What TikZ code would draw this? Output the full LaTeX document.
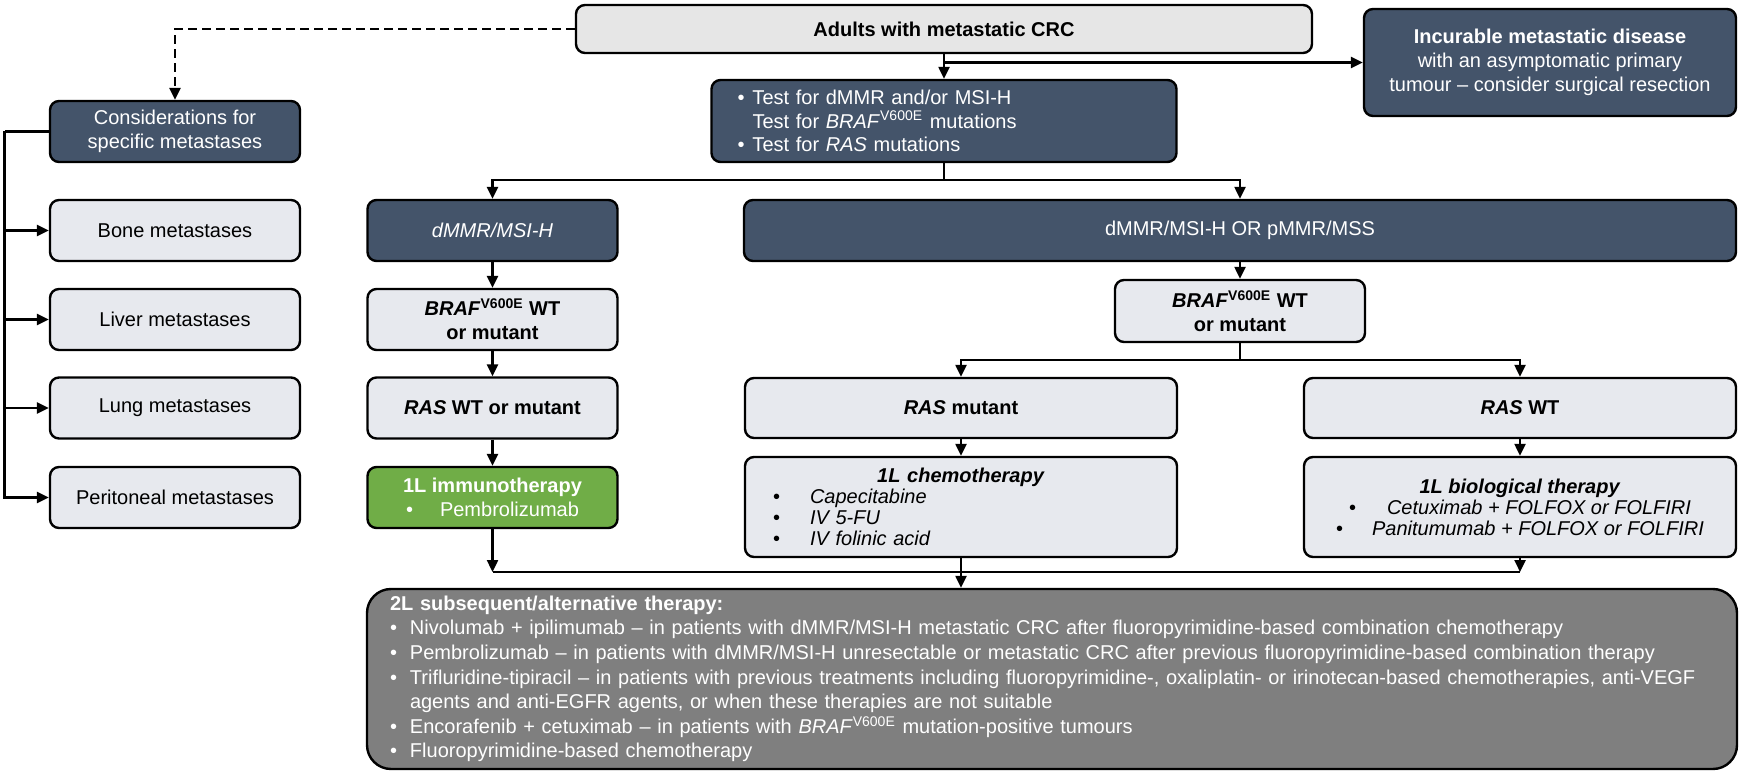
\documentclass[tikz,border=0pt]{standalone}
\usepackage{fontspec}
\setmainfont{Liberation Sans}
\usetikzlibrary{arrows.meta}
\definecolor{slate}{HTML}{44546A}
\definecolor{pale}{HTML}{E7E9EE}
\definecolor{palegrey}{HTML}{E6E6E6}
\definecolor{leaf}{HTML}{70AD47}
\definecolor{midgrey}{HTML}{7F7F7F}
\newcommand{\braf}{\textit{BRAF}\textsuperscript{V600E}}
\newcommand{\bul}[1]{\makebox[#1][l]{\textbullet}}

\begin{document}
\begin{tikzpicture}[x=0.5pt,y=-0.5pt,
  box/.style={draw=black, line width=1.2pt, rounded corners=4.5pt, align=center, inner sep=2pt, font=\fontsize{10}{12}\selectfont},
  light/.style={box, fill=pale, text=black},
  dark/.style={box, fill=slate, text=white},
  small/.style={minimum width=125pt, minimum height=30.5pt},
  wide/.style={minimum width=216pt, minimum height=30pt},
  wire/.style={line width=1.2pt},
  link/.style={line width=1.2pt, -{Stealth[length=6pt, width=5.5pt, inset=0pt]}}]
\useasboundingbox (0,0) rectangle (1739,774);

\node[light, fill=palegrey, minimum width=368pt, minimum height=24pt] (adults) at (944,29) {\textbf{Adults with metastatic CRC}};
\node[dark, minimum width=186pt, minimum height=53.5pt] (incur) at (1550,62.5) {\textbf{Incurable metastatic disease}\\with an asymptomatic primary\\tumour -- consider surgical resection};
\node[dark, minimum width=232.5pt, minimum height=41pt, text width=206.5pt, align=left, inner xsep=13pt, font=\fontsize{10}{11.8}\selectfont] (tests) at (944,121) {\bul{7.5pt}Test for dMMR and/or MSI-H\\\hspace*{7.5pt}Test for \braf{} mutations\\\bul{7.5pt}Test for \textit{RAS} mutations};

\node[dark, small] (consid) at (175,131.5) {Considerations for\\specific metastases};
\node[light, small] (bone) at (175,230.5) {Bone metastases};
\node[light, small] (liver) at (175,319.5) {Liver metastases};
\node[light, small] (lung) at (175,408) {Lung metastases};
\node[light, small] (perit) at (175,497.5) {Peritoneal metastases};

\node[dark, small] (dmmr) at (492.5,230.5) {\textit{dMMR/MSI-H}};
\node[light, small] (brafL) at (492.5,319.5) {\textbf{\braf{} WT}\\\textbf{or mutant}};
\node[light, small] (rasL) at (492.5,408) {\textbf{\textit{RAS} WT or mutant}};
\node[box, small, fill=leaf, text=white] (immuno) at (492.5,497.5) {\textbf{1L immunotherapy}\\\bul{17pt}Pembrolizumab};

\node[dark, minimum width=496pt, minimum height=30.5pt] (either) at (1240,230.5) {dMMR/MSI-H OR pMMR/MSS};
\node[light, minimum width=125pt, minimum height=31pt] (brafR) at (1240,311) {\textbf{\braf{} WT}\\\textbf{or mutant}};
\node[light, wide] (rasmut) at (961,408) {\textbf{\textit{RAS} mutant}};
\node[light, wide] (raswt) at (1520,408) {\textbf{\textit{RAS} WT}};
\node[light, wide, minimum height=50pt, text width=188pt, align=left, inner xsep=14pt, font=\fontsize{10}{10.5}\selectfont] (chemo) at (961,507) {\makebox[\hsize]{\textbf{\textit{1L chemotherapy}}}\\\bul{18.5pt}\textit{Capecitabine}\\\bul{18.5pt}\textit{IV 5-FU}\\\bul{18.5pt}\textit{IV folinic acid}};
\node[light, wide, minimum height=50pt, font=\fontsize{10}{10.5}\selectfont] (bio) at (1520,507) {\textbf{\textit{1L biological therapy}}\\\bul{19pt}\textit{Cetuximab + FOLFOX or FOLFIRI}\\\bul{18pt}\textit{Panitumumab + FOLFOX or FOLFIRI}};

\node[box, fill=midgrey, text=white, rounded corners=12pt, minimum width=685pt, minimum height=90pt, text width=662pt, align=left, inner xsep=11.5pt, font=\fontsize{10}{12.3}\selectfont] (second) at (1052,679) {\textbf{2L subsequent/alternative therapy:}\\
\bul{10pt}Nivolumab + ipilimumab -- in patients with dMMR/MSI-H metastatic CRC after fluoropyrimidine-based combination chemotherapy\\
\bul{10pt}Pembrolizumab -- in patients with dMMR/MSI-H unresectable or metastatic CRC after previous fluoropyrimidine-based combination therapy\\
\bul{10pt}Trifluridine-tipiracil -- in patients with previous treatments including fluoropyrimidine-, oxaliplatin- or irinotecan-based chemotherapies, anti-VEGF\\
\hspace*{10pt}agents and anti-EGFR agents, or when these therapies are not suitable\\
\bul{10pt}Encorafenib + cetuximab -- in patients with \braf{} mutation-positive tumours\\
\bul{10pt}Fluoropyrimidine-based chemotherapy};

\draw[link, dash pattern=on 4.5pt off 2.5pt] (adults.west) -| (consid.north);
\coordinate (spine) at (4.5,131.5);
\draw[wire] (consid.west) -- (spine);
\draw[link] (spine) |- (perit.west);
\foreach \m in {bone,liver,lung}
  \draw[link] (spine |- \m.west) -- (\m.west);

\draw[link] (adults.south) -- (tests.north);
\draw[link] (adults.south |- incur.west) -- (incur.west);
\coordinate (fork1) at (944,180);
\draw[wire] (tests.south) -- (fork1);
\draw[link] (fork1) -| (dmmr.north);
\draw[link] (fork1) -| (either.north);

\draw[link] (dmmr) -- (brafL);
\draw[link] (brafL) -- (rasL);
\draw[link] (rasL) -- (immuno);

\draw[link] (either.south) -- (brafR.north);
\coordinate (fork2) at (1240,360);
\draw[wire] (brafR.south) -- (fork2);
\draw[link] (fork2) -| (rasmut.north);
\draw[link] (fork2) -| (raswt.north);
\draw[link] (rasmut) -- (chemo);
\draw[link] (raswt) -- (bio);

\coordinate (join) at (961,572);
\draw[link] (immuno.south) -- (immuno.south |- join);
\draw[link] (bio.south) -- (bio.south |- join);
\draw[wire] (immuno.south |- join) -- (bio.south |- join);
\draw[link] (chemo.south) -- (chemo.south |- second.north);
\end{tikzpicture}
\end{document}
